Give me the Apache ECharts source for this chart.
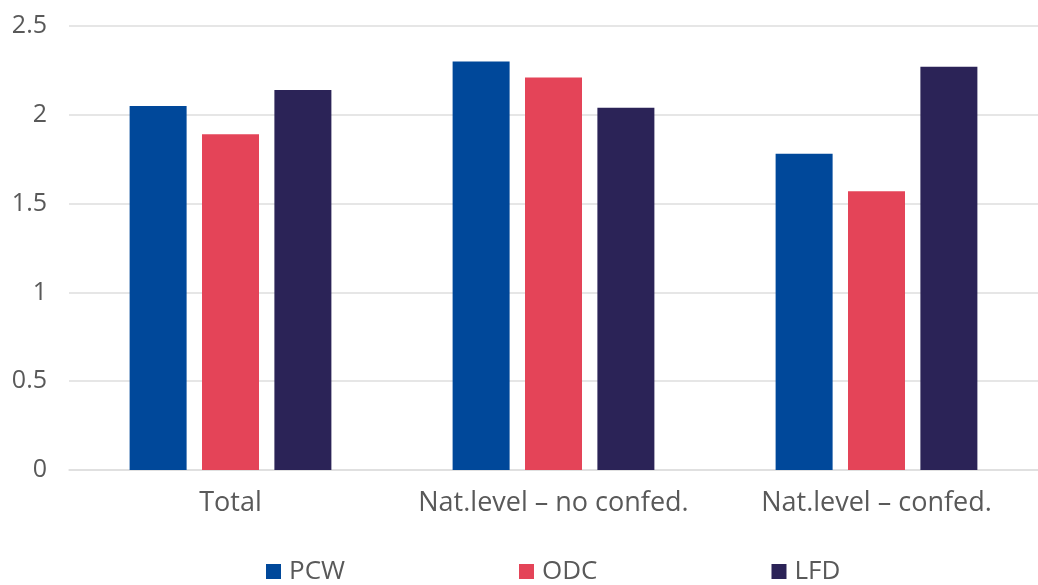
<!DOCTYPE html>
<html>
<head>
<meta charset="utf-8">
<script src="https://cdn.jsdelivr.net/npm/echarts@6/dist/echarts.min.js"></script>
<style>
html,body{margin:0;padding:0;background:#fff;}
#chart{width:1038px;height:585px;}
</style>
</head>
<body>
<div id="chart"></div>
<script>
var categories = ['Total', 'Nat.level \u2013 no confed.', 'Nat.level \u2013 confed.'];
var seriesNames = ['PCW', 'ODC', 'LFD'];
var pcw = [2.05, 2.30, 1.78];
var odc = [1.89, 2.21, 1.57];
var lfd = [2.14, 2.04, 2.27];
var colors = ['#00489A', '#E44458', '#2B2357'];

var font = "'Open Sans', sans-serif";
var textColor = '#595959';
var chart = echarts.init(document.getElementById('chart'), null, {renderer: 'canvas'});
var values = [pcw, odc, lfd];
chart.setOption({
  animation: false,
  color: colors,
  grid: {left: 69, top: 26, width: 974, height: 444, containLabel: false},
  legend: {
    left: 266, top: 558, padding: 0,
    itemWidth: 15, itemHeight: 15, itemGap: 174,
    icon: 'rect',
    textStyle: {fontFamily: font, fontSize: 26, color: textColor, padding: [0, 0, 0, 3], lineHeight: 27},
    data: seriesNames
  },
  xAxis: {
    type: 'category', data: categories,
    axisLine: {lineStyle: {color: '#DEDEDE', width: 1.5}},
    axisTick: {show: false},
    axisLabel: {interval: 0, fontFamily: font, fontSize: 27, lineHeight: 27, color: textColor, margin: 20}
  },
  yAxis: {
    type: 'value', min: 0, max: 2.5, interval: 0.5,
    axisLine: {show: false}, axisTick: {show: false},
    splitLine: {lineStyle: {color: '#DEDEDE', width: 1.5}},
    axisLabel: {fontFamily: font, fontSize: 25, color: textColor, margin: 22}
  },
  series: seriesNames.map(function (n, i) {
    return {name: n, type: 'bar', data: values[i], barWidth: 57, barGap: '27%'};
  })
});
</script>
</body>
</html>
